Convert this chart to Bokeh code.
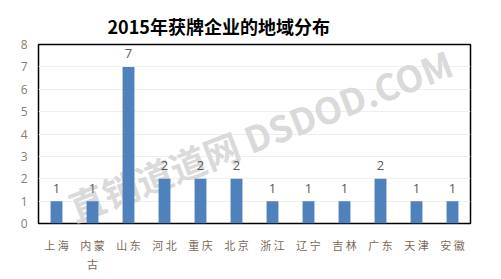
from bokeh.plotting import figure
from bokeh.models import ColumnDataSource, FactorRange, Range1d, LabelSet, FixedTicker
from bokeh.core.properties import value
from bokeh.embed import file_html
from bokeh.resources import INLINE

title_text = "2015年获牌企业的地域分布"
region_labels = ["上 海", "内 蒙\n古", "山 东", "河 北", "重 庆", "北 京", "浙 江", "辽 宁", "吉 林", "广 东", "天 津", "安 徽"]
counts = [1, 1, 7, 2, 2, 2, 1, 1, 1, 2, 1, 1]
y_ticks = [0, 1, 2, 3, 4, 5, 6, 7, 8]
watermark = "直销道道网 DSDOD.COM"

source = ColumnDataSource(dict(region=region_labels, count=counts, label=[str(c) for c in counts]))

p = figure(width=501, height=279, output_backend="svg", toolbar_location=None,
           x_range=FactorRange(*region_labels, range_padding=0), y_range=Range1d(0, 8),
           min_border_left=38, min_border_right=31, min_border_top=44, min_border_bottom=56)
p.background_fill_color = "white"
p.border_fill_color = "white"
p.outline_line_color = "black"
p.outline_line_width = 1.5

p.title.text = title_text
p.title.align = "left"
p.title.offset = 69
p.title.standoff = 12
p.title.text_font = "Noto Sans CJK SC"
p.title.text_font_size = "18px"
p.title.text_font_style = "bold"
p.title.text_color = "black"

# watermark behind the bars
p.text(x=[6.15], y=[4.0], text=[watermark], angle=0.37,
       text_font=value("Noto Sans CJK SC"), text_font_size="36px", text_font_style="bold",
       text_color="#dadada", text_align="center", text_baseline="middle")

p.vbar(x="region", top="count", width=0.33, source=source, color="#4F81BD", line_color=None)

labels = LabelSet(x="region", y="count", text="label", source=source, y_offset=13,
                  text_align="center", text_baseline="middle", text_font_size=value("13px"),
                  text_color=value("#595959"), text_font=value("Open Sans"))
p.add_layout(labels)

p.yaxis.ticker = FixedTicker(ticks=y_ticks)
p.yaxis.axis_line_color = None
p.yaxis.major_tick_line_color = None
p.yaxis.major_tick_out = 0
p.yaxis.minor_tick_line_color = None
p.yaxis.major_label_text_color = "#8c7b6b"
p.yaxis.major_label_text_font = "Open Sans"
p.yaxis.major_label_text_font_size = "12px"
p.yaxis.major_label_standoff = 11

p.xaxis.axis_line_color = None
p.xaxis.major_tick_line_color = None
p.xaxis.major_tick_out = 0
p.xaxis.major_label_text_color = "#7a6a5a"
p.xaxis.major_label_text_font = "Noto Sans CJK SC"
p.xaxis.major_label_text_font_size = "11px"
p.xaxis.major_label_standoff = 13

p.xgrid.grid_line_color = None
p.ygrid.grid_line_color = "#efefef"
p.ygrid.grid_line_width = 1

open("out.html", "w").write(file_html(p, INLINE))
